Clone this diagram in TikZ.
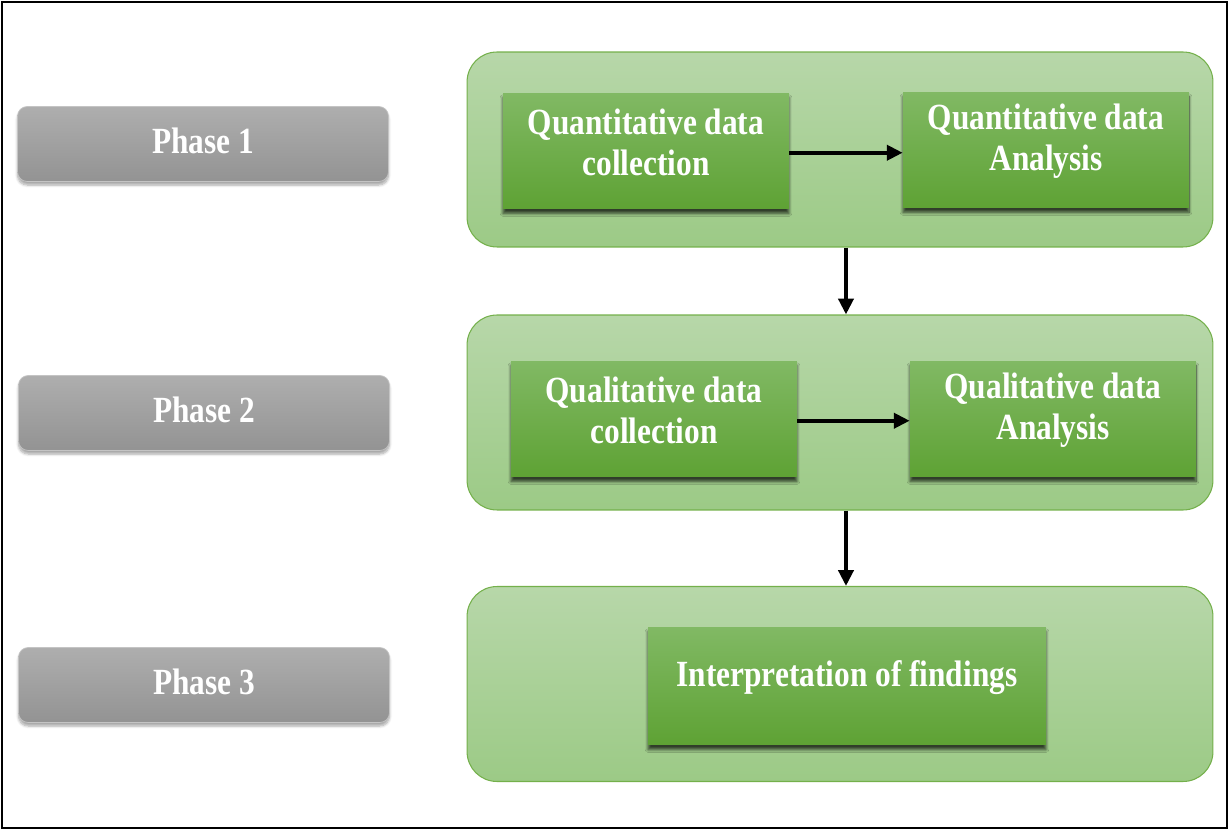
\documentclass[tikz,border=0pt]{standalone}
\usepackage{fontspec}
\setmainfont{Liberation Serif}[FakeStretch=0.85]
\usetikzlibrary{arrows.meta,shadows.blur}
\definecolor{grayTop}{HTML}{AEAEAE}
\definecolor{grayBot}{HTML}{939393}
\definecolor{grayEdge}{HTML}{C4C4C4}
\definecolor{contTop}{HTML}{B7D7A9}
\definecolor{contBot}{HTML}{9CCA86}
\definecolor{contEdge}{HTML}{74B04B}
\definecolor{stepTop}{HTML}{81B964}
\definecolor{stepBot}{HTML}{5EA234}
\begin{document}
\begin{tikzpicture}[x=0.02cm,y=-0.02cm,
  txt/.style={text=white,font=\fontsize{21}{23}\selectfont\bfseries,align=center},
  phasebox/.style={rectangle,rounded corners=5.5pt,draw=grayEdge,line width=0.4pt,
    top color=grayTop,bottom color=grayBot,minimum width=7.42cm,minimum height=1.5cm,
    blur shadow={shadow xshift=0pt,shadow yshift=-2pt,shadow blur radius=1.5pt,
      shadow blur steps=6,shadow opacity=35}},
  phaselabel/.style={txt,yshift=1.8pt},
  container/.style={rectangle,rounded corners=17pt,draw=contEdge,line width=0.6pt,
    top color=contTop,bottom color=contBot,minimum width=14.92cm,minimum height=3.9cm},
  stepbox/.style={rectangle,top color=stepTop,bottom color=stepBot,
    minimum width=5.72cm,minimum height=2.32cm,
    blur shadow={shadow xshift=0pt,shadow yshift=-2.6pt,shadow blur radius=1.6pt,
      shadow blur steps=8,shadow opacity=70}},
  steplabel/.style={txt,yshift=5pt},
  arr/.style={line width=2.2pt,-{Triangle[length=9pt,width=8.5pt]}}
]
\useasboundingbox (0,0) rectangle (1229,830);
\draw[line width=1.1pt] (2,2) rectangle (1227,828);

% phase labels
\node[phasebox,label={[phaselabel]center:Phase 1}] (p1) at (203,144) {};
\node[phasebox,label={[phaselabel]center:Phase 2}] (p2) at (204,413) {};
\node[phasebox,label={[phaselabel]center:Phase 3}] (p3) at (204,685) {};

% phase containers
\node[container] (c1) at (840,149.5) {};
\node[container] (c2) at (840,412.5) {};
\node[container] (c3) at (840,684) {};

% steps
\node[stepbox,label={[steplabel]center:Quantitative data\\collection}] (q1) at (646,151) {};
\node[stepbox,label={[steplabel]center:Quantitative data\\Analysis}] (q2) at (1046,150) {};
\node[stepbox,label={[steplabel]center:Qualitative data\\collection}] (l1) at (654,419) {};
\node[stepbox,label={[steplabel]center:Qualitative data\\Analysis}] (l2) at (1053,419) {};
\node[stepbox,minimum width=7.96cm,minimum height=2.36cm,
  label={[steplabel]center:Interpretation of findings}] (fi) at (847,686) {};

% connectors
\draw[arr] ([yshift=-1pt]q1.east) -- ([yshift=-1pt]q1.east -| q2.west);
\draw[arr] ([yshift=-1pt]l1.east) -- ([yshift=-1pt]l1.east -| l2.west);
\draw[arr] ([xshift=3.4pt]c1.south) -- ([xshift=3.4pt]c2.north);
\draw[arr] ([xshift=3.4pt]c2.south) -- ([xshift=3.4pt]c3.north);
\end{tikzpicture}
\end{document}
